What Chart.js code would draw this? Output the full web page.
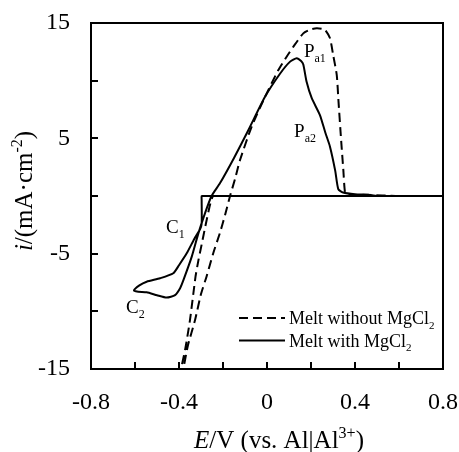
<!DOCTYPE html>
<html>
<head>
<meta charset="utf-8">
<script src="https://cdn.jsdelivr.net/npm/chart.js@4.4.0/dist/chart.umd.min.js"></script>
<style>
  body { margin: 0; background: #fff; }
  #wrap { width: 459px; height: 452px; }
</style>
</head>
<body>
<div id="wrap"><canvas id="cv" width="459" height="452"></canvas></div>
<script>
/* ==================== */
/* 1  Data               */
/* ==================== */
// E in V vs. Al|Al3+, i in mA/cm2
const withoutE = [0.8, 0.5, 0, -0.2, -0.235, -0.245, -0.252, -0.262, -0.28, -0.297, -0.312, -0.325, -0.35, -0.372, -0.395, -0.405,
  -0.39, -0.36, -0.327, -0.3, -0.275, -0.245, -0.214, -0.19, -0.168, -0.145, -0.123, -0.07, -0.009, 0.051, 0.09, 0.12,
  0.165, 0.2, 0.226, 0.25, 0.264, 0.286, 0.301, 0.317, 0.325, 0.336, 0.347, 0.355, 0.37, 0.45, 0.6, 0.8];
const withoutI = [0, 0, 0, 0, 0, 0, -0.3, -1.0, -2.6, -4.2, -5.6, -7.0, -10.75, -13.3, -15.3, -15.8,
  -15.8, -13.0, -10.75, -8.5, -7.0, -5.0, -3.2, -1.6, 0, 1.5, 3.1, 6.0, 8.6, 10.9, 12.1, 12.95,
  14.1, 14.45, 14.55, 14.5, 14.4, 13.7, 12.2, 10.5, 8.2, 5.1, 2.25, 0.3, 0.1, 0.1, 0, 0];

const withE = [0.8, 0.5, 0, -0.2, -0.27, -0.29, -0.297, -0.297, -0.297, -0.305, -0.33, -0.365, -0.4, -0.426, -0.486, -0.547, -0.58, -0.605,
  -0.585, -0.547, -0.5, -0.456, -0.418, -0.395, -0.38, -0.342, -0.312, -0.282, -0.252, -0.214, -0.15, -0.085, -0.009, 0.059,
  0.105, 0.135, 0.155, 0.165, 0.18, 0.203, 0.241, 0.265, 0.286, 0.31, 0.324, 0.346, 0.4, 0.46, 0.5, 0.65, 0.8];
const withI = [0, 0, 0, 0, 0, 0, 0, -0.4, -2.4, -2.9, -3.7, -4.97, -6.0, -6.7, -7.13, -7.43, -7.75, -8.2,
  -8.3, -8.35, -8.6, -8.8, -8.6, -8.0, -7.3, -5.26, -3.24, -1.5, 0, 1.1, 3.3, 5.7, 8.6, 10.6,
  11.65, 11.95, 11.7, 11.4, 9.9, 8.5, 7.0, 5.5, 4.3, 2.2, 0.6, 0.3, 0.15, 0.1, 0, 0, 0];

const xTicks = [-0.8, -0.6, -0.4, -0.2, 0, 0.2, 0.4, 0.6, 0.8];
const xLabels = ['-0.8', '', '-0.4', '', '0', '', '0.4', '', '0.8'];
const yTicks = [-15, -10, -5, 0, 5, 10, 15];
const yLabels = ['-15', '', '-5', '', '5', '', '15'];

const seriesNames = ['Melt without MgCl', 'Melt with MgCl'];

/* ==================== */
/* 2  Text helpers       */
/* ==================== */
const FONT = '"Liberation Serif", "Times New Roman", serif';

function partFont(kind, size) {
  const small = kind === 'sub' || kind === 'sup';
  const fs = small ? Math.round(size * 0.62) : size;
  return (kind === 'i' ? 'italic ' : '') + fs + 'px ' + FONT;
}

function richWidth(ctx, parts, size) {
  let w = 0;
  parts.forEach(([t, k]) => {
    ctx.font = partFont(k, size);
    w += ctx.measureText(t).width;
  });
  return w;
}

function drawRich(ctx, parts, x, y, size) {
  let cx = x;
  ctx.textAlign = 'left';
  ctx.textBaseline = 'alphabetic';
  parts.forEach(([t, k]) => {
    ctx.font = partFont(k, size);
    const dy = k === 'sub' ? size * 0.25 : k === 'sup' ? -size * 0.4 : 0;
    ctx.fillText(t, cx, y + dy);
    cx += ctx.measureText(t).width;
  });
}

/* ==================== */
/* 3  Decoration plugin  */
/* ==================== */
const decor = {
  id: 'decor',
  afterDraw(chart) {
    const { ctx, chartArea: a, scales: { x, y } } = chart;
    ctx.save();
    ctx.fillStyle = '#000';
    ctx.strokeStyle = '#000';
    ctx.lineWidth = 2;

    // frame
    ctx.strokeRect(a.left, a.top, a.right - a.left, a.bottom - a.top);

    // inward ticks
    ctx.beginPath();
    xTicks.forEach(v => {
      const px = Math.round(x.getPixelForValue(v));
      ctx.moveTo(px, a.bottom);
      ctx.lineTo(px, a.bottom - 7);
    });
    yTicks.forEach(v => {
      const py = Math.round(y.getPixelForValue(v));
      ctx.moveTo(a.left, py);
      ctx.lineTo(a.left + 7, py);
    });
    ctx.stroke();

    // peak labels
    const notes = [
      [[['P', ''], ['a1', 'sub']], 0.168, 12.05],
      [[['P', ''], ['a2', 'sub']], 0.123, 5.1],
      [[['C', ''], ['1', 'sub']], -0.459, -3.2],
      [[['C', ''], ['2', 'sub']], -0.641, -10.15]
    ];
    notes.forEach(([parts, e, i]) => drawRich(ctx, parts, x.getPixelForValue(e), y.getPixelForValue(i), 19));

    // legend
    const rows = [[a.bottom - 51, [9, 5]], [a.bottom - 28.5, []]];
    rows.forEach(([ry, dash], k) => {
      ctx.setLineDash(dash);
      ctx.beginPath();
      ctx.moveTo(a.right - 204, ry);
      ctx.lineTo(a.right - 158, ry);
      ctx.stroke();
      ctx.setLineDash([]);
      drawRich(ctx, [[seriesNames[k], ''], ['2', 'sub']], a.right - 154, ry + 6, 18);
    });

    // x title
    const xt = [['E', 'i'], ['/V (vs. Al|Al', ''], ['3+', 'sup'], [')', '']];
    const xw = richWidth(ctx, xt, 25);
    drawRich(ctx, xt, (a.left + a.right) / 2 + 12 - xw / 2, 448, 25);

    // y title
    const yt = [['i', 'i'], ['/(mA\u00b7cm', ''], ['-2', 'sup'], [')', '']];
    const yw = richWidth(ctx, yt, 25);
    ctx.translate(32, (a.top + a.bottom) / 2 - 5);
    ctx.rotate(-Math.PI / 2);
    drawRich(ctx, yt, -yw / 2, 0, 25);

    ctx.restore();
  }
};

/* ==================== */
/* 4  Chart              */
/* ==================== */
const toPoints = (es, is) => es.map((e, k) => ({ x: e, y: is[k] }));

new Chart(document.getElementById('cv'), {
  type: 'scatter',
  data: {
    datasets: [
      {
        label: seriesNames[1],
        data: toPoints(withE, withI),
        showLine: true,
        borderColor: '#000',
        borderWidth: 2,
        pointRadius: 0,
        tension: 0.2,
        order: 0
      },
      {
        label: seriesNames[0],
        data: toPoints(withoutE, withoutI),
        showLine: true,
        borderColor: '#000',
        borderWidth: 2,
        borderDash: [9, 5],
        pointRadius: 0,
        tension: 0.2,
        order: 1
      }
    ]
  },
  options: {
    responsive: false,
    animation: false,
    devicePixelRatio: 1,
    layout: { padding: { top: 23, right: 16, left: 0, bottom: 0 } },
    plugins: { legend: { display: false }, tooltip: { enabled: false } },
    scales: {
      x: {
        type: 'linear',
        min: -0.8,
        max: 0.8,
        afterBuildTicks: s => { s.ticks = xTicks.map(v => ({ value: v })); },
        afterFit: s => { s.height = 83; s.paddingLeft = 0; s.paddingRight = 0; },
        grid: { display: false, drawTicks: false },
        border: { display: false },
        ticks: {
          color: '#000',
          padding: 19,
          maxRotation: 0,
          autoSkip: false,
          font: { family: FONT, size: 24 },
          callback: (v, k) => xLabels[k]
        }
      },
      y: {
        type: 'linear',
        min: -15,
        max: 15,
        afterBuildTicks: s => { s.ticks = yTicks.map(v => ({ value: v })); },
        afterFit: s => { s.width = 91; s.paddingTop = 0; s.paddingBottom = 0; },
        grid: { display: false, drawTicks: false },
        border: { display: false },
        ticks: {
          color: '#000',
          padding: 21,
          autoSkip: false,
          font: { family: FONT, size: 24 },
          callback: (v, k) => yLabels[k]
        }
      }
    }
  },
  plugins: [decor]
});
</script>
</body>
</html>
